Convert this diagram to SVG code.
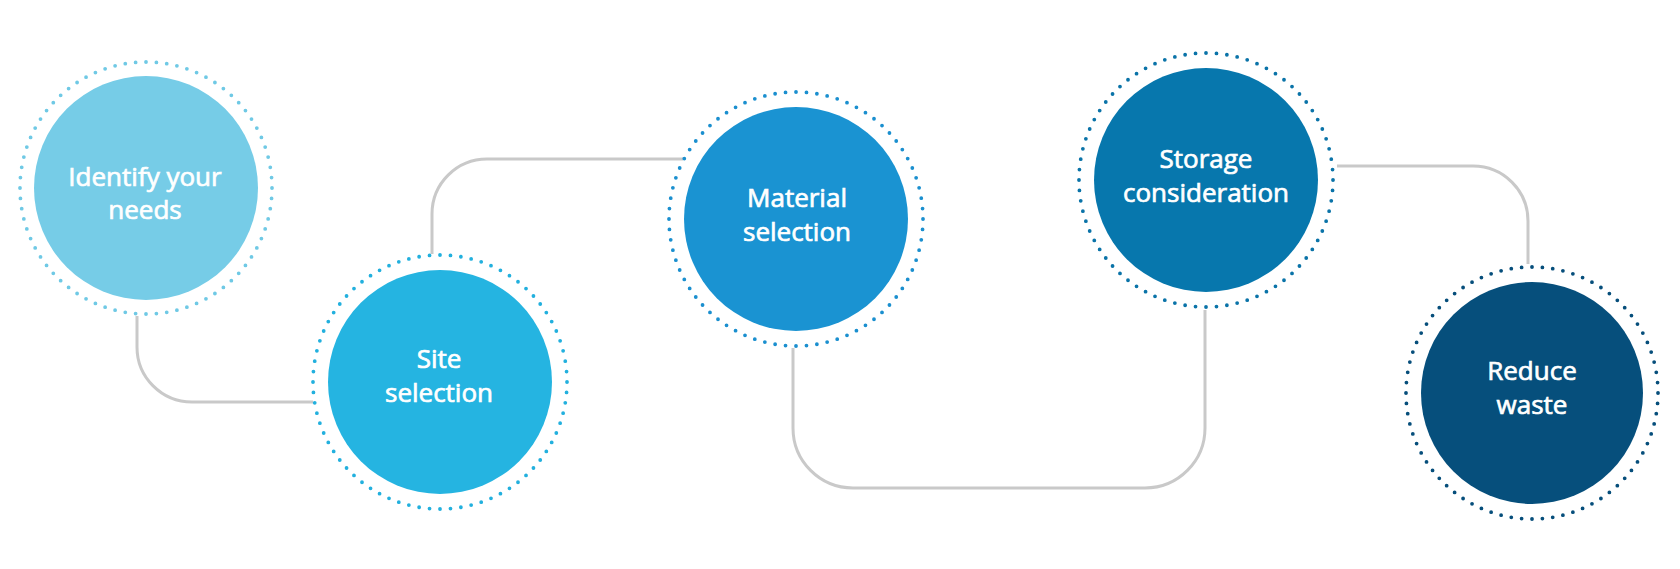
<svg xmlns="http://www.w3.org/2000/svg" width="1680" height="569" viewBox="0 0 1680 569">
<style>
.conn{fill:none;stroke:#c9c9c9;stroke-width:3}
.ring{fill:none;stroke-width:3.8;stroke-linecap:round;stroke-dasharray:0 1}
.lbl{font-family:"Open Sans","Liberation Sans",sans-serif;font-size:26px;font-weight:400;fill:#ffffff;stroke:#ffffff;stroke-width:0.7;text-anchor:middle}
</style>
<rect width="1680" height="569" fill="#ffffff"/>
<g id="connectors">
<path class="conn" d="M137,316 V347 A55,55 0 0 0 192,402 H313"/>
<path class="conn" d="M432,254 V214 A55,55 0 0 1 487,159 H683"/>
<path class="conn" d="M793,348 V428 A60,60 0 0 0 853,488 H1145 A60,60 0 0 0 1205,428 V310"/>
<path class="conn" d="M1337,166 H1473 A55,55 0 0 1 1528,221 V264"/>
</g>
<g id="node1">
<circle cx="146" cy="188" r="126" class="ring" stroke="#6fc9e5" pathLength="76"/>
<circle cx="146" cy="188" r="112" fill="#76cce7"/>
<text class="lbl" x="145" y="186">Identify your</text>
<text class="lbl" x="145" y="219">needs</text>
</g>
<g id="node2">
<circle cx="440" cy="382" r="127" class="ring" stroke="#22b0de" pathLength="76"/>
<circle cx="440" cy="382" r="112" fill="#25b4e1"/>
<text class="lbl" x="439" y="368">Site</text>
<text class="lbl" x="439" y="402">selection</text>
</g>
<g id="node3">
<circle cx="796" cy="219" r="127" class="ring" stroke="#1a8fcf" pathLength="76"/>
<circle cx="796" cy="219" r="112" fill="#1a93d2"/>
<text class="lbl" x="797" y="207">Material</text>
<text class="lbl" x="797" y="241">selection</text>
</g>
<g id="node4">
<circle cx="1206" cy="180" r="127" class="ring" stroke="#0a73a8" pathLength="76"/>
<circle cx="1206" cy="180" r="112" fill="#0777ad"/>
<text class="lbl" x="1206" y="168">Storage</text>
<text class="lbl" x="1206" y="202">consideration</text>
</g>
<g id="node5">
<circle cx="1532" cy="393" r="126" class="ring" stroke="#064e7b" pathLength="76"/>
<circle cx="1532" cy="393" r="111" fill="#064f7c"/>
<text class="lbl" x="1532" y="380">Reduce</text>
<text class="lbl" x="1532" y="414">waste</text>
</g>
</svg>
